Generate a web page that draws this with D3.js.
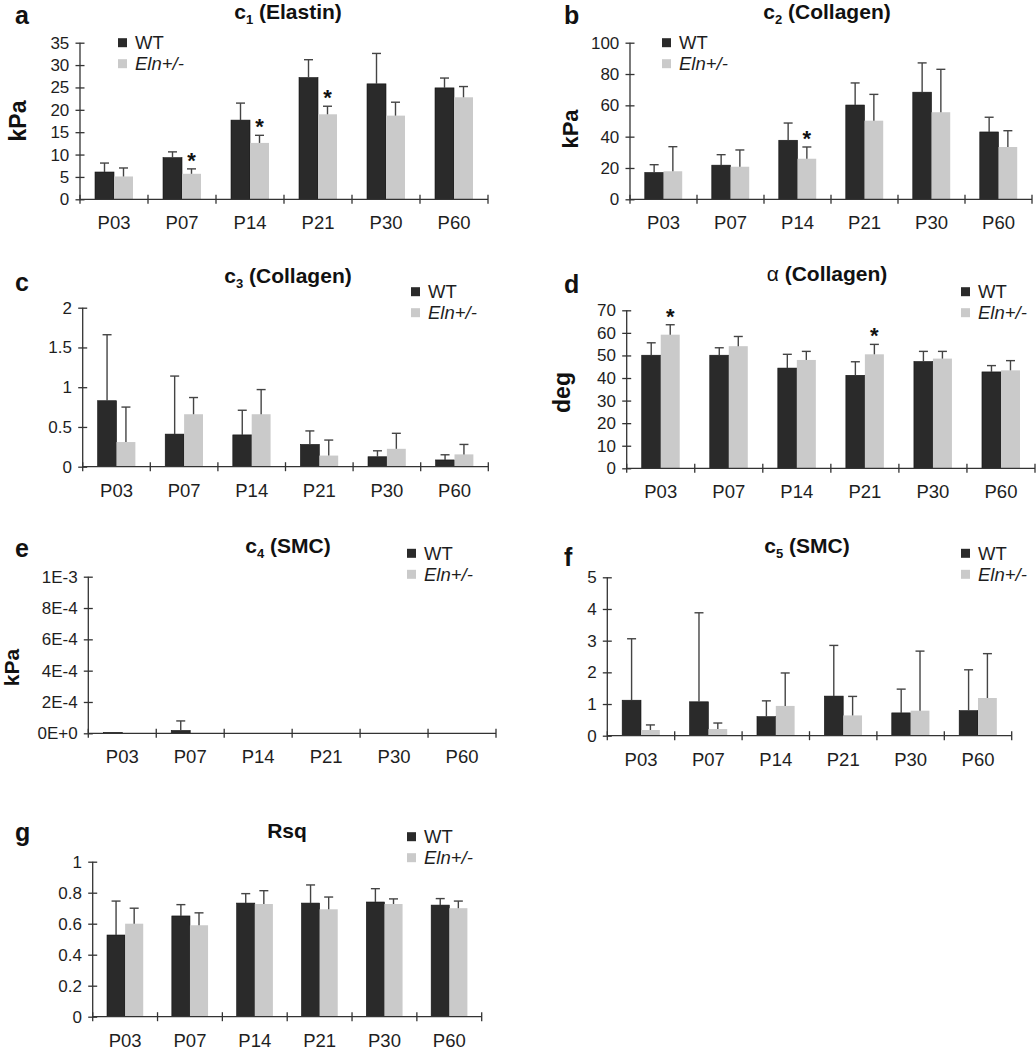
<!DOCTYPE html>
<html>
<head>
<meta charset="utf-8">
<script src="https://cdn.jsdelivr.net/npm/d3@7"></script>
<style>
  body { margin: 0; background: #fff; }
  svg { display: block; font-family: "Liberation Sans", Arial, Helvetica, sans-serif; }
</style>
</head>
<body>
<script>
// time points and groups
const categories = ['P03', 'P07', 'P14', 'P21', 'P30', 'P60'];
const groups = ['WT', 'Eln+/-'];

// c1 (Elastin), kPa
const c1WT = [6.1, 9.3, 17.7, 27.2, 25.8, 24.9];
const c1WTsd = [2.0, 1.3, 3.8, 4.0, 6.8, 2.2];
const c1Eln = [5.1, 5.7, 12.6, 19.0, 18.7, 22.8];
const c1Elnsd = [1.9, 1.1, 1.7, 1.8, 3.0, 2.4];
const c1Stars = ['P07', 'P14', 'P21'];

// c2 (Collagen), kPa
const c2WT = [17.1, 21.8, 37.7, 60.2, 68.4, 43.0];
const c2WTsd = [5.0, 6.7, 11.0, 14.1, 18.7, 9.4];
const c2Eln = [17.9, 20.8, 25.9, 50.2, 55.6, 33.4];
const c2Elnsd = [15.7, 10.7, 7.5, 16.8, 27.4, 10.4];
const c2Stars = ['P14'];

// c3 (Collagen)
const c3WT = [0.83, 0.41, 0.40, 0.28, 0.125, 0.085];
const c3WTsd = [0.83, 0.73, 0.31, 0.17, 0.075, 0.065];
const c3Eln = [0.31, 0.66, 0.66, 0.14, 0.225, 0.155];
const c3Elnsd = [0.44, 0.21, 0.31, 0.195, 0.195, 0.125];

// alpha (Collagen), deg
const alphaWT = [50.1, 50.1, 44.4, 41.2, 47.3, 42.7];
const alphaWTsd = [5.5, 3.3, 6.1, 6.0, 4.5, 2.8];
const alphaEln = [59.2, 54.1, 48.0, 50.5, 48.6, 43.4];
const alphaElnsd = [4.4, 4.3, 3.8, 4.4, 3.2, 4.3];
const alphaStars = ['P03', 'P21'];

// c4 (SMC), kPa
const c4WT = [0.6e-5, 1.8e-5, 0, 0, 0, 0];
const c4WTsd = [0, 6.1e-5, 0, 0, 0, 0];
const c4Eln = [0, 0, 0, 0, 0, 0];
const c4Elnsd = [0, 0, 0, 0, 0, 0];
const c4TickLabels = ['0E+0', '2E-4', '4E-4', '6E-4', '8E-4', '1E-3'];

// c5 (SMC)
const c5WT = [1.12, 1.07, 0.60, 1.25, 0.72, 0.79];
const c5WTsd = [1.94, 2.81, 0.50, 1.60, 0.75, 1.29];
const c5Eln = [0.18, 0.21, 0.94, 0.64, 0.79, 1.19];
const c5Elnsd = [0.16, 0.19, 1.04, 0.60, 1.88, 1.40];

// Rsq
const rsqWT = [0.527, 0.65, 0.733, 0.733, 0.74, 0.72];
const rsqWTsd = [0.219, 0.073, 0.061, 0.117, 0.086, 0.042];
const rsqEln = [0.60, 0.59, 0.727, 0.693, 0.727, 0.70];
const rsqElnsd = [0.10, 0.08, 0.086, 0.079, 0.033, 0.046];

const W = 1036, H = 1050;
const svg = d3.select('body').append('svg').attr('width', W).attr('height', H);

const darkFill = '#2a2a2a', lightFill = '#cacaca', inkCol = '#1e1e1e', errCol = '#444';

// layout of each panel (pixels)
const panels = [
  { letter: 'a', title: ['c', '1', ' (Elastin)'], ylabel: 'kPa', wt: c1WT, wtSd: c1WTsd, eln: c1Eln, elnSd: c1Elnsd, stars: c1Stars,
    max: 35, step: 5, x0: 80, x1: 488, y0: 199.3, y1: 42.7, titleX: 288, titleY: 19, letterX: 15, letterY: 24,
    labelX: 26, labelY: 121, labelSize: 23, legX: 118, legY: 42.7 },
  { letter: 'b', title: ['c', '2', ' (Collagen)'], ylabel: 'kPa', wt: c2WT, wtSd: c2WTsd, eln: c2Eln, elnSd: c2Elnsd, stars: c2Stars,
    max: 100, step: 20, x0: 630, x1: 1032, y0: 199.3, y1: 42.7, titleX: 827, titleY: 19, letterX: 564, letterY: 24,
    labelX: 578, labelY: 129, labelSize: 22, legX: 662, legY: 42.7 },
  { letter: 'c', title: ['c', '3', ' (Collagen)'], ylabel: null, wt: c3WT, wtSd: c3WTsd, eln: c3Eln, elnSd: c3Elnsd, stars: [],
    max: 2, step: 0.5, x0: 82.7, x1: 488.3, y0: 466.7, y1: 307.7, titleX: 288, titleY: 283, letterX: 15, letterY: 291,
    legX: 411, legY: 291.7 },
  { letter: 'd', title: ['\u03b1', null, ' (Collagen)'], ylabel: 'deg', wt: alphaWT, wtSd: alphaWTsd, eln: alphaEln, elnSd: alphaElnsd, stars: alphaStars,
    max: 70, step: 10, x0: 626.7, x1: 1035, y0: 468.3, y1: 310.3, titleX: 827, titleY: 281, letterX: 564, letterY: 293,
    labelX: 570, labelY: 392.5, labelSize: 23, legX: 961, legY: 291.7 },
  { letter: 'e', title: ['c', '4', ' (SMC)'], ylabel: 'kPa', wt: c4WT, wtSd: c4WTsd, eln: c4Eln, elnSd: c4Elnsd, stars: [],
    max: 1e-3, step: 2e-4, tickLabels: c4TickLabels, x0: 88.3, x1: 496, y0: 733.3, y1: 576.7, titleX: 288, titleY: 553,
    letterX: 15, letterY: 557, labelX: 19, labelY: 667.5, labelSize: 21, legX: 407, legY: 553.3 },
  { letter: 'f', title: ['c', '5', ' (SMC)'], ylabel: null, wt: c5WT, wtSd: c5WTsd, eln: c5Eln, elnSd: c5Elnsd, stars: [],
    max: 5, step: 1, x0: 607.3, x1: 1011.7, y0: 735.7, y1: 577.3, titleX: 807, titleY: 553, letterX: 564, letterY: 566,
    legX: 961, legY: 553.3 },
  { letter: 'g', title: ['Rsq', null, ''], ylabel: null, wt: rsqWT, wtSd: rsqWTsd, eln: rsqEln, elnSd: rsqElnsd, stars: [],
    max: 1, step: 0.2, x0: 92.7, x1: 481.7, y0: 1016.7, y1: 861.7, titleX: 287, titleY: 838, letterX: 15, letterY: 841,
    legX: 407, legY: 836.7 }
];

panels.forEach(drawPanel);

function drawPanel(p) {
  const g = svg.append('g');

  const x = d3.scaleBand().domain(categories).range([p.x0, p.x1]);
  const xs = d3.scaleBand().domain(groups).range([0, x.bandwidth()]).paddingOuter(0.79);
  const y = d3.scaleLinear().domain([0, p.max]).range([p.y0, p.y1]);

  // panel letter
  g.append('text').attr('x', p.letterX).attr('y', p.letterY)
    .attr('font-size', 25).attr('font-weight', 'bold').attr('fill', '#111').text(p.letter);

  // title, with subscript
  const t = g.append('text').attr('x', p.titleX).attr('y', p.titleY).attr('text-anchor', 'middle')
    .attr('font-size', 21).attr('font-weight', 'bold').attr('fill', '#111');
  t.append('tspan').text(p.title[0]).attr('font-weight', p.title[0] === '\u03b1' ? 'normal' : 'bold');
  if (p.title[1]) t.append('tspan').text(p.title[1]).attr('font-size', 13).attr('dy', 5);
  if (p.title[2]) t.append('tspan').text(p.title[2]).attr('dy', p.title[1] ? -5 : 0);

  // y axis label
  if (p.ylabel) {
    g.append('text')
      .attr('transform', `translate(${p.labelX},${p.labelY}) rotate(-90)`)
      .attr('text-anchor', 'middle').attr('font-size', p.labelSize).attr('font-weight', 'bold').attr('fill', '#111')
      .text(p.ylabel);
  }

  // bars
  const series = [
    { key: groups[0], vals: p.wt, sd: p.wtSd, fill: darkFill },
    { key: groups[1], vals: p.eln, sd: p.elnSd, fill: lightFill }
  ];
  series.forEach(s => {
    const bx = (c) => x(c) + xs(s.key);
    g.selectAll(null).data(categories).enter().append('rect')
      .attr('x', c => bx(c))
      .attr('y', (c, i) => y(s.vals[i]))
      .attr('width', xs.bandwidth())
      .attr('height', (c, i) => p.y0 - y(s.vals[i]))
      .attr('fill', s.fill)
      .attr('stroke', s.key === 'WT' ? '#111' : 'none')
      .attr('stroke-width', 0.6);

    // upper error bars
    const eg = g.selectAll(null).data(categories.filter((c, i) => s.sd[i] > 0)).enter().append('g')
      .attr('stroke', errCol).attr('stroke-width', 1.4);
    const idx = c => categories.indexOf(c);
    const cx = c => bx(c) + xs.bandwidth() / 2;
    eg.append('line')
      .attr('x1', cx).attr('x2', cx)
      .attr('y1', c => y(s.vals[idx(c)]))
      .attr('y2', c => y(s.vals[idx(c)] + s.sd[idx(c)]));
    eg.append('line')
      .attr('x1', c => cx(c) - 4.5).attr('x2', c => cx(c) + 4.5)
      .attr('y1', c => y(s.vals[idx(c)] + s.sd[idx(c)]))
      .attr('y2', c => y(s.vals[idx(c)] + s.sd[idx(c)]));

    // significance stars over the Eln+/- bars
    if (s.key === groups[1]) {
      g.selectAll(null).data(p.stars).enter().append('text')
        .attr('x', c => cx(c))
        .attr('y', c => y(s.vals[idx(c)] + s.sd[idx(c)]) - 1)
        .attr('text-anchor', 'middle').attr('font-size', 22).attr('font-weight', 'bold').attr('fill', '#111')
        .text('*');
    }
  });

  // y axis with crossing ticks
  const yTicks = d3.range(0, p.max + p.step / 2, p.step);
  const yAxis = d3.axisLeft(y).tickValues(yTicks).tickSize(4.5).tickPadding(6.2)
    .tickFormat((d, i) => p.tickLabels ? p.tickLabels[i] : d3.format('~g')(+d.toFixed(6)));
  const ya = g.append('g').attr('transform', `translate(${p.x0},0)`).call(yAxis);
  ya.select('.domain').attr('d', `M0,${p.y0}V${p.y1}`).attr('stroke', '#333').attr('stroke-width', 1.3);
  ya.selectAll('.tick line').attr('x1', 4.5).attr('stroke', '#333').attr('stroke-width', 1.3);
  ya.selectAll('.tick text').attr('font-size', 17).attr('fill', inkCol).attr('font-family', null);

  // x axis: category labels, ticks at band edges
  const xAxis = d3.axisBottom(x).tickSize(0).tickPadding(0);
  const xa = g.append('g').attr('transform', `translate(0,${p.y0})`).call(xAxis);
  xa.select('.domain').attr('d', `M${p.x0},0H${p.x1}`).attr('stroke', '#333').attr('stroke-width', 1.3);
  xa.selectAll('.tick text').attr('dy', null).attr('y', 30)
    .attr('font-size', 18.5).attr('fill', inkCol).attr('font-family', null);
  xa.selectAll('line.edge').data(d3.range(categories.length + 1)).enter().append('line')
    .attr('class', 'edge')
    .attr('x1', i => p.x0 + i * x.step()).attr('x2', i => p.x0 + i * x.step())
    .attr('y1', -4.5).attr('y2', 4.5)
    .attr('stroke', '#333').attr('stroke-width', 1.3);

  // legend
  const lg = g.append('g').attr('transform', `translate(${p.legX},${p.legY})`);
  groups.forEach((k, i) => {
    const row = lg.append('g').attr('transform', `translate(0,${i * 21})`);
    row.append('rect').attr('x', 0).attr('y', -4.5).attr('width', 9).attr('height', 9)
      .attr('fill', i === 0 ? darkFill : lightFill);
    row.append('text').attr('x', 17).attr('y', 6.5).attr('font-size', 18.5).attr('fill', inkCol)
      .attr('font-style', i === 0 ? 'normal' : 'italic').text(k);
  });
}
</script>
</body>
</html>
